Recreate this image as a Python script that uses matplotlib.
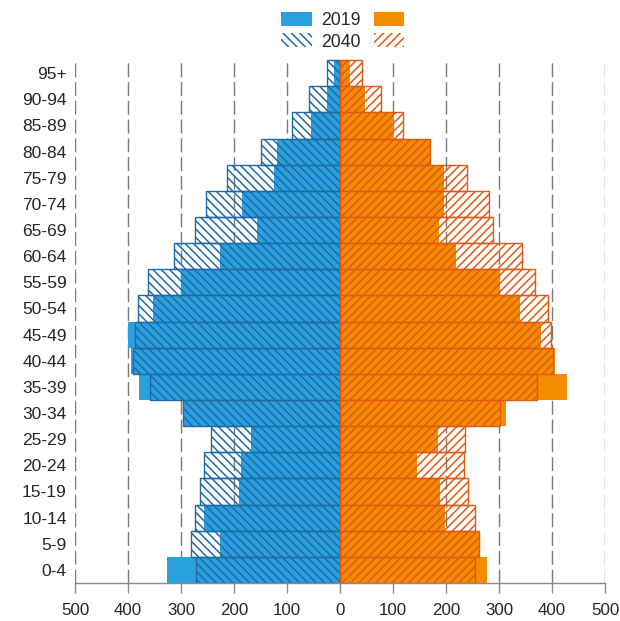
import matplotlib
matplotlib.use("Agg")
import matplotlib.pyplot as plt
from matplotlib.patches import Patch
import numpy as np

plt.rcParams['font.family'] = ['Liberation Sans', 'DejaVu Sans']
plt.rcParams['hatch.linewidth'] = 1.1

categories = ['0-4', '5-9', '10-14', '15-19', '20-24', '25-29', '30-34', '35-39',
              '40-44', '45-49', '50-54', '55-59', '60-64', '65-69', '70-74',
              '75-79', '80-84', '85-89', '90-94', '95+']

left_2019 = [326, 226, 256, 191, 187, 168, 295, 379, 394, 400,
             353, 300, 227, 157, 185, 124, 118, 55, 24, 12]
left_2040 = [271, 281, 273, 264, 257, 244, 296, 359, 390, 387,
             381, 363, 313, 274, 252, 214, 149, 91, 58, 24]
right_2019 = [277, 264, 199, 189, 145, 185, 314, 429, 406, 379,
              340, 301, 219, 187, 197, 197, 171, 101, 47, 19]
right_2040 = [255, 262, 254, 242, 234, 236, 301, 371, 401, 398,
              393, 368, 343, 289, 281, 240, 170, 119, 78, 41]

xticks = [-500, -400, -300, -200, -100, 0, 100, 200, 300, 400, 500]
xticklabels = ['500', '400', '300', '200', '100', '0', '100', '200', '300', '400', '500']

blue = '#29A1DE'
blue_dark = '#1F6AA5'
orange = '#F58C00'
orange_dark = '#E05A14'
text_col = '#262626'

W, H = 620, 621
fig = plt.figure(figsize=(W / 100, H / 100), dpi=100)
ax = fig.add_axes([75 / W, 1 - 583 / H, (605 - 75) / W, (583 - 58) / H])

y = np.arange(len(categories))
# 2019 solid bars
ax.barh(y, -np.array(left_2019), height=1.0, color=blue, linewidth=0, zorder=2)
ax.barh(y, right_2019, height=1.0, color=orange, linewidth=0, zorder=2)
# 2040 hatched outline bars
ax.barh(y, -np.array(left_2040), height=1.0, facecolor='none', edgecolor=blue_dark,
        hatch='\\\\\\\\', linewidth=1.0, zorder=3)
ax.barh(y, right_2040, height=1.0, facecolor='none', edgecolor=orange_dark,
        hatch='////', linewidth=1.0, zorder=3)

ax.set_xlim(-500, 500)
ax.set_ylim(-0.5, 19.58)
ax.set_xticks(xticks)
ax.set_xticklabels(xticklabels)
ax.set_yticks(y)
ax.set_yticklabels(categories)

for xv in xticks:
    ax.axvline(xv, color='#7a7a7a', linewidth=1.0, linestyle=(0, (10, 3.5)), zorder=1)

for s in ['top', 'right', 'left']:
    ax.spines[s].set_visible(False)
ax.spines['bottom'].set_color('#8a8a8a')
ax.spines['bottom'].set_linewidth(1.0)
ax.spines['bottom'].set_zorder(4)
ax.tick_params(axis='x', direction='out', length=7, width=1.0, color='#8a8a8a',
               labelsize=12.2, labelcolor=text_col, pad=7.5)
ax.tick_params(axis='y', length=0, labelsize=12.5, labelcolor=text_col, pad=6)

handles = [Patch(facecolor=blue, edgecolor='none'),
           Patch(facecolor='none', edgecolor=blue_dark, hatch='\\\\\\\\', linewidth=0),
           Patch(facecolor=orange, edgecolor='none'),
           Patch(facecolor='none', edgecolor=orange_dark, hatch='////', linewidth=0)]
labels = ['2019', '2040', '', '']
leg = fig.legend(handles, labels, ncol=2, loc='upper center', bbox_to_anchor=(0.56, 1.0),
                 frameon=False, fontsize=12.7, handlelength=1.75, handleheight=0.85,
                 handletextpad=0.5, columnspacing=0.75, labelspacing=0.22,
                 borderaxespad=0.3)
for t in leg.get_texts():
    t.set_color(text_col)

fig.savefig('out.png', dpi=100)
